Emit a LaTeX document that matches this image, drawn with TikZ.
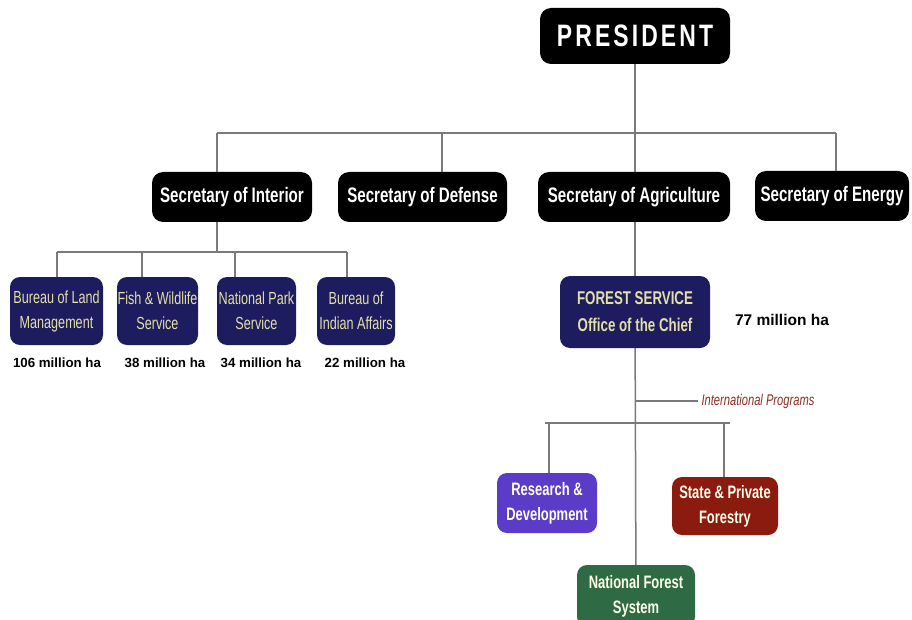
\documentclass[tikz,border=0pt]{standalone}
\usepackage{fontspec}
\setmainfont{Liberation Sans}
\newfontfamily\narrowfont[FakeStretch=0.72]{Liberation Sans}
\newfontfamily\presfont[FakeStretch=0.74,LetterSpace=10]{Liberation Sans}
\definecolor{navy}{HTML}{1C1C5E}
\definecolor{paleyellow}{HTML}{E4DFA6}
\definecolor{rdpurple}{HTML}{5A3CC8}
\definecolor{sprred}{HTML}{8A1B0E}
\definecolor{nfsgreen}{HTML}{2E6B44}
\definecolor{progred}{HTML}{8E2E22}
\definecolor{linegray}{HTML}{7A7A7A}
\begin{document}
\begin{tikzpicture}
[x=1pt, y=-1pt,
 link/.style ={draw=linegray, line width=1.5pt},
 chief/.style ={fill=black, rounded corners=11pt, text=white, inner sep=0pt},
 secbox/.style ={chief, minimum height=50pt, font=\narrowfont\bfseries\fontsize{21}{24}\selectfont},
 bureau/.style ={fill=navy, rounded corners=10pt, text=paleyellow, inner sep=0pt,
   minimum height=68pt, align=center, font=\narrowfont\fontsize{17.5}{25}\selectfont},
 branch/.style ={rounded corners=10pt, text=white!92!yellow, inner sep=0pt,
   align=center, font=\narrowfont\bfseries\fontsize{18}{25}\selectfont},
 area/.style ={font=\bfseries\fontsize{13.3}{15}\selectfont}]
\useasboundingbox (0,0) rectangle (912,620);
% top
\node[chief, minimum width=190pt, minimum height=56pt,
  font=\presfont\bfseries\fontsize{31}{36}\selectfont] (pres) at (635,36) {PRESIDENT};
% secretaries
\node[secbox, minimum width=160pt] (interior) at (232,197) {Secretary of Interior};
\node[secbox, minimum width=169pt] (defense) at (422.5,197) {Secretary of Defense};
\node[secbox, minimum width=192pt] (agri) at (634,197) {Secretary of Agriculture};
\node[secbox, minimum width=154pt] (energy) at (832,196) {Secretary of Energy};
\coordinate (busL) at (217,133);
\coordinate (busD) at (442,133);
\coordinate (busA) at (635,133);
\coordinate (busR) at (836,133);
\draw[link] (pres) -- (busA);
\draw[link] (busL) -- (busR);
\draw[link] (busL) -- (busL |- interior.north);
\draw[link] (busD) -- (busD |- defense.north);
\draw[link] (busA) -- (busA |- agri.north);
\draw[link] (busR) -- (busR |- energy.north);
% interior
\node[bureau, minimum width=93pt] (blm) at (56.5,311) {Bureau of Land\\Management};
\node[bureau, minimum width=81pt] (fws) at (157.5,311) {Fish \& Wildlife\\Service};
\node[bureau, minimum width=79pt] (nps) at (256.5,311) {National Park\\Service};
\node[bureau, minimum width=78pt] (bia) at (356,311) {Bureau of\\Indian Affairs};
\coordinate (subI) at (217,252);
\coordinate (sub1) at (57,252);
\coordinate (sub2) at (142,252);
\coordinate (sub3) at (235,252);
\coordinate (sub4) at (347,252);
\draw[link] (busL |- interior.south) -- (subI);
\draw[link] (sub1) -- (sub4);
\draw[link] (sub1) -- (sub1 |- blm.north);
\draw[link] (sub2) -- (sub2 |- fws.north);
\draw[link] (sub3) -- (sub3 |- nps.north);
\draw[link] (sub4) -- (sub4 |- bia.north);
\node[area] (ha1) at (57,363) {106 million ha};
\node[area] (ha2) at (165,363) {38 million ha};
\node[area] (ha3) at (261,363) {34 million ha};
\node[area] (ha4) at (365,363) {22 million ha};
% forest service
\node[bureau, minimum width=150pt, minimum height=72pt,
  font=\narrowfont\bfseries\fontsize{18.5}{27}\selectfont] (fs) at (635,312)
  {FOREST SERVICE\\Office of the Chief};
\node[area, font=\bfseries\fontsize{15.5}{18}\selectfont] (ha5) at (782,320) {77 million ha};
\draw[link] (busA |- agri.south) -- (fs);
\node[branch, fill=rdpurple, minimum width=100pt, minimum height=60pt] (rd) at (547,503)
  {Research \&\\Development};
\node[branch, fill=sprred, minimum width=106pt, minimum height=58pt] (spf) at (725,506)
  {State \& Private\\Forestry};
\node[branch, fill=nfsgreen, minimum width=118pt, minimum height=62pt] (nfs) at (636,596)
  {National Forest\\System};
\node[anchor=west, text=progred, font=\narrowfont\itshape\fontsize{15.5}{18}\selectfont]
  (intl) at (698,401) {International Programs};
\coordinate (intlL) at (635,401);
\coordinate (fsL) at (545,423);
\coordinate (fsR) at (730,423);
\coordinate (rdT) at (549,423);
\coordinate (spfT) at (724,423);
\draw[link] (fs) -- (nfs);
\draw[link] (intlL) -- (intl.west);
\draw[link] (fsL) -- (fsR);
\draw[link] (rdT) -- (rdT |- rd.north);
\draw[link] (spfT) -- (spfT |- spf.north);
\end{tikzpicture}
\end{document}
